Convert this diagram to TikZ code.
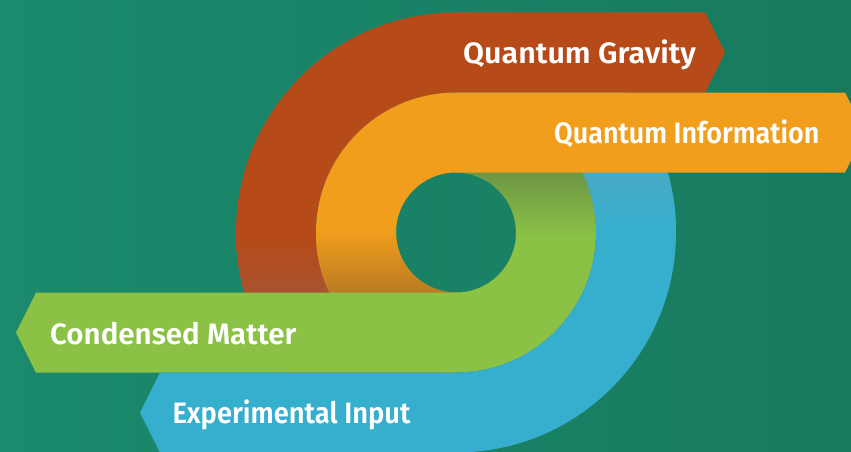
\documentclass[tikz,border=0pt]{standalone}
\usepackage{graphicx}
\usepackage{fontspec}
\newfontfamily\lblfont{Fira Sans SemiBold}
\definecolor{bgA}{HTML}{1B8A6D}
\definecolor{bgB}{HTML}{177A5E}
\definecolor{qgred}{HTML}{B64A18}
\definecolor{qgredlow}{HTML}{A9532F}
\definecolor{qiorange}{HTML}{F09E1C}
\definecolor{qiorangelow}{HTML}{BB7B22}
\definecolor{cmgreen}{HTML}{8BC145}
\definecolor{cmgreentop}{HTML}{6E9646}
\definecolor{eiblue}{HTML}{36AFCE}
\definecolor{eibluetop}{HTML}{4AA9C4}
\begin{document}
\begin{tikzpicture}[x=1pt,y=1pt,
  lbl/.style={text=white, font=\lblfont\fontsize{29.5}{31}\selectfont, inner sep=0pt, anchor=base west}]
\useasboundingbox (0,0) rectangle (851,451);
\clip (0,0) rectangle (851,451);
\shade[left color=bgA, right color=bgB] (0,0) rectangle (851,451);
\coordinate (C) at (456,218.5);
% half rings
\def\redring{(456,438.5) arc[start angle=90,end angle=270,radius=220] -- (456,78.5) arc[start angle=270,end angle=90,radius=140] -- cycle}
\def\orangering{(456,358.5) arc[start angle=90,end angle=270,radius=140] -- (456,158.5) arc[start angle=270,end angle=90,radius=60] -- cycle}
\def\greenring{(456,78.5) arc[start angle=-90,end angle=90,radius=140] -- (456,278.5) arc[start angle=90,end angle=-90,radius=60] -- cycle}
\def\bluering{(456,-1.5) arc[start angle=-90,end angle=90,radius=220] -- (456,358.5) arc[start angle=90,end angle=-90,radius=140] -- cycle}
\begin{scope}
  \clip \redring;
  \fill[qgred] (230,-5) rectangle (460,445);
  \shade[top color=qgred, bottom color=qgredlow] (230,158.5) rectangle (460,215);
\end{scope}
\begin{scope}
  \clip \orangering;
  \fill[qiorange] (310,70) rectangle (460,365);
  \shade[top color=qiorange, bottom color=qiorangelow] (310,158.5) rectangle (460,220);
\end{scope}
\begin{scope}
  \clip \greenring;
  \fill[cmgreen] (452,70) rectangle (600,365);
  \shade[top color=cmgreentop, bottom color=cmgreen] (452,215) rectangle (600,278.5);
\end{scope}
\begin{scope}
  \clip \bluering;
  \fill[eiblue] (452,-5) rectangle (680,445);
  \shade[top color=eibluetop, bottom color=eiblue] (452,225) rectangle (680,278.5);
\end{scope}
% arms
\fill[qgred] (455.5,438.5) -- (705,438.5) -- (725,398.5) -- (705,358.5) -- (455.5,358.5) -- cycle;
\fill[qiorange] (455.5,358.5) -- (845,358.5) -- (865,318.5) -- (845,278.5) -- (455.5,278.5) -- cycle;
\fill[cmgreen] (456.5,158.5) -- (36,158.5) -- (16,118.5) -- (36,78.5) -- (456.5,78.5) -- cycle;
\fill[eiblue] (456.5,78.5) -- (160,78.5) -- (140,38.5) -- (160,-1.5) -- (456.5,-1.5) -- cycle;
% labels
\node[lbl] (qg) at (463,387.7) {\resizebox{232.7pt}{\height}{Quantum Gravity}};
\node[lbl] (qi) at (554,307.8) {\resizebox{265.3pt}{\height}{Quantum Information}};
\node[lbl] (cm) at (50,106.7) {\resizebox{246pt}{\height}{Condensed Matter}};
\node[lbl] (ei) at (172.3,27.7) {\resizebox{238pt}{\height}{Experimental Input}};
\end{tikzpicture}
\end{document}
